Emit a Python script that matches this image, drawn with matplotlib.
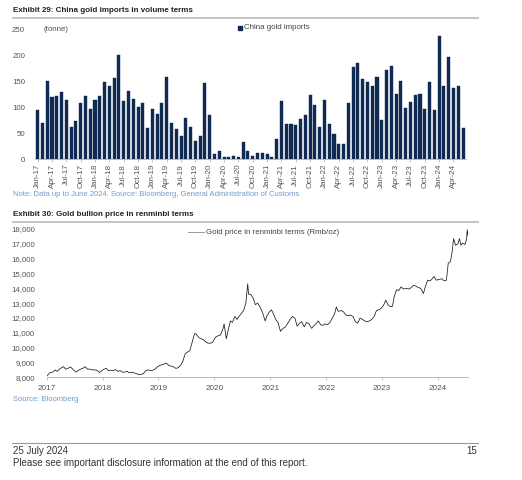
import matplotlib
matplotlib.use("Agg")
import matplotlib.pyplot as plt
import pandas as pd
import numpy as np
from matplotlib.lines import Line2D
from matplotlib.patches import Rectangle

# ---------------- data ----------------
months = pd.date_range("2017-01-01", "2024-06-01", freq="MS")
month_labels = [d.strftime("%b-%y") for d in months]
imports_tonnes = [
    95, 70, 150, 120, 121, 130, 114, 62, 73, 108, 122, 96,      # 2017
    113, 122, 149, 141, 156, 200, 111, 131, 116, 100, 107, 60,  # 2018
    97, 86, 107, 159, 70, 58, 44, 79, 62, 35, 45, 147,          # 2019
    84, 9, 16, 4, 3, 5, 4, 33, 16, 6, 11, 12,                   # 2020
    9, 4, 38, 112, 68, 68, 66, 77, 84, 124, 104, 62,            # 2021
    113, 68, 48, 28, 28, 108, 178, 185, 154, 148, 141, 159,     # 2022
    75, 171, 180, 126, 150, 99, 109, 124, 126, 97, 148, 95,     # 2023
    238, 140, 197, 137, 141, 59,                                # 2024
]
imports_yticks = [0, 50, 100, 150, 200, 250]

price_dates = [
    "2017-01-03", "2017-01-20", "2017-02-10", "2017-02-25", "2017-03-10", "2017-03-25",
    "2017-04-10", "2017-04-20", "2017-05-05", "2017-05-20", "2017-06-05", "2017-06-20",
    "2017-07-10", "2017-07-25", "2017-08-10", "2017-08-25", "2017-09-08", "2017-09-25",
    "2017-10-10", "2017-10-25", "2017-11-10", "2017-11-25", "2017-12-12", "2017-12-28",
    "2018-01-10", "2018-01-25", "2018-02-08", "2018-02-25", "2018-03-10", "2018-03-25",
    "2018-04-10", "2018-04-25", "2018-05-10", "2018-05-25", "2018-06-10", "2018-06-25",
    "2018-07-10", "2018-07-25", "2018-08-10", "2018-08-25", "2018-09-10", "2018-09-25",
    "2018-10-10", "2018-10-25", "2018-11-10", "2018-11-25", "2018-12-10", "2018-12-25",
    "2019-01-10", "2019-01-25", "2019-02-10", "2019-02-22", "2019-03-10", "2019-03-25",
    "2019-04-10", "2019-04-25", "2019-05-10", "2019-05-25", "2019-06-10", "2019-06-25",
    "2019-07-10", "2019-07-25", "2019-08-10", "2019-08-25", "2019-09-05", "2019-09-20",
    "2019-10-05", "2019-10-20", "2019-11-05", "2019-11-20", "2019-12-05", "2019-12-20",
    "2020-01-08", "2020-01-25", "2020-02-10", "2020-02-24", "2020-03-05", "2020-03-19",
    "2020-04-01", "2020-04-15", "2020-04-28", "2020-05-15", "2020-05-28", "2020-06-10",
    "2020-06-25", "2020-07-10", "2020-07-25", "2020-08-06", "2020-08-12", "2020-08-25",
    "2020-09-10", "2020-09-25", "2020-10-10", "2020-10-25", "2020-11-10", "2020-11-28",
    "2020-12-10", "2020-12-25", "2021-01-08", "2021-01-20", "2021-02-05", "2021-02-20",
    "2021-03-08", "2021-03-25", "2021-04-10", "2021-04-25", "2021-05-10", "2021-05-25",
    "2021-06-10", "2021-06-25", "2021-07-10", "2021-07-25", "2021-08-10", "2021-08-25",
    "2021-09-10", "2021-09-28", "2021-10-10", "2021-10-25", "2021-11-10", "2021-11-25",
    "2021-12-10", "2021-12-25", "2022-01-10", "2022-01-25", "2022-02-10", "2022-02-25",
    "2022-03-08", "2022-03-20", "2022-04-10", "2022-04-25", "2022-05-10", "2022-05-25",
    "2022-06-10", "2022-06-25", "2022-07-10", "2022-07-25", "2022-08-10", "2022-08-25",
    "2022-09-10", "2022-09-25", "2022-10-10", "2022-10-25", "2022-11-10", "2022-11-25",
    "2022-12-10", "2022-12-25", "2023-01-10", "2023-01-25", "2023-02-08", "2023-02-25",
    "2023-03-10", "2023-03-20", "2023-04-05", "2023-04-20", "2023-05-05", "2023-05-20",
    "2023-06-05", "2023-06-25", "2023-07-10", "2023-07-25", "2023-08-10", "2023-08-25",
    "2023-09-10", "2023-09-28", "2023-10-10", "2023-10-25", "2023-11-10", "2023-11-25",
    "2023-12-05", "2023-12-20", "2024-01-10", "2024-01-25", "2024-02-10", "2024-02-25",
    "2024-03-08", "2024-03-22", "2024-04-03", "2024-04-12", "2024-04-25", "2024-05-10",
    "2024-05-20", "2024-05-30", "2024-06-10", "2024-06-25", "2024-07-05", "2024-07-10",
    "2024-07-15",
]
price_rmb_oz = [
    8100, 8300, 8350, 8500, 8400, 8550,
    8650, 8720, 8550, 8600, 8700, 8550,
    8350, 8450, 8550, 8600, 8720, 8550,
    8550, 8500, 8500, 8480, 8330, 8450,
    8550, 8600, 8450, 8480, 8450, 8520,
    8400, 8450, 8350, 8350, 8400, 8300,
    8350, 8300, 8250, 8180, 8200, 8250,
    8450, 8500, 8450, 8480, 8550, 8700,
    8800, 8850, 8900, 8950, 8800, 8750,
    8700, 8600, 8650, 8800, 9100, 9600,
    9700, 9800, 10400, 10950, 10900, 10700,
    10600, 10550, 10400, 10300, 10300, 10350,
    10700, 10800, 10850, 11200, 11600, 10600,
    11200, 11800, 11700, 12100, 11900, 12100,
    12300, 12500, 13000, 14300, 13600, 13600,
    13350, 12900, 13000, 12750, 12400, 11800,
    12150, 12400, 12550, 12300, 11900, 11700,
    11100, 11300, 11400, 11650, 11900, 12100,
    12000, 11450, 11650, 11750, 11400, 11700,
    11600, 11300, 11450, 11600, 11800, 11550,
    11500, 11600, 11550, 11700, 12000, 12300,
    12750, 12450, 12500, 12400, 12200, 12150,
    12200, 12100, 11750, 11650, 12000, 11900,
    11800, 11750, 11800, 11900, 12100, 12500,
    12550, 12650, 12850, 13200, 12900, 12750,
    12800, 13400, 13900, 13850, 14100, 13950,
    14000, 13950, 14050, 14200, 14150, 14050,
    14000, 13650, 14100, 14550, 14500, 14650,
    14800, 14550, 14600, 14650, 14500, 14550,
    15700, 15800, 16500, 17350, 16900, 17000,
    17350, 16900, 17050, 16950, 17300, 17950,
    17550,
]
price_yticks = list(range(8000, 18001, 1000))
price_years = list(range(2017, 2025))

# ---------------- layout helpers ----------------
W, H = 522, 480
fig = plt.figure(figsize=(W / 100, H / 100), dpi=100)
fig.patch.set_facecolor("white")
plt.rcParams["font.family"] = ["Liberation Sans", "DejaVu Sans"]


def rect(l, t, r, b):
    return [l / W, 1 - b / H, (r - l) / W, (b - t) / H]


def fy(y):
    return 1 - y / H


def fx(x):
    return x / W


def hline(y, x0, x1, color="#c4c4c4", lw=1.4):
    fig.add_artist(Line2D([fx(x0), fx(x1)], [fy(y), fy(y)], color=color, lw=lw,
                          transform=fig.transFigure))


TICK_C = "#555555"
NOTE_C = "#6f9bc9"
BAR_C = "#0f2b52"

# ---------------- Exhibit 29 ----------------
fig.text(fx(13), fy(10), "Exhibit 29: China gold imports in volume terms",
         fontsize=5.8, fontweight="bold", color="#222222", va="center", ha="left")
hline(17.5, 13, 478)

ax1 = fig.add_axes(rect(34.8, 29.3, 465.9, 159))
x = np.arange(len(imports_tonnes))
ax1.bar(x, imports_tonnes, width=0.64, color=BAR_C, edgecolor=BAR_C, linewidth=0.3)
ax1.set_xlim(-0.6, len(imports_tonnes) - 0.4)
ax1.set_ylim(0, 250)
ax1.set_yticks(imports_yticks)
ax1.set_yticklabels([str(v) for v in imports_yticks])
tick_idx = list(range(0, len(month_labels), 3))
ax1.set_xticks(tick_idx)
ax1.set_xticklabels([month_labels[i] for i in tick_idx], rotation=90)
for s in ["top", "right", "left"]:
    ax1.spines[s].set_visible(False)
ax1.spines["bottom"].set_color("#b0b0b0")
ax1.spines["bottom"].set_linewidth(0.6)
ax1.tick_params(axis="y", length=0, pad=7, labelsize=5.7, labelcolor=TICK_C)
ax1.tick_params(axis="x", length=2, width=0.5, color="#b0b0b0", pad=1.5,
                labelsize=5.8, labelcolor=TICK_C)
fig.text(fx(43), fy(29.5), "(tonne)", fontsize=5.7, color=TICK_C, va="center", ha="left")
fig.add_artist(Rectangle((fx(237.5), fy(30)), 4 / W, 4 / H, color=BAR_C,
                         transform=fig.transFigure))
fig.text(fx(244), fy(27.5), "China gold imports", fontsize=5.7, color="#444444",
         va="center", ha="left")

fig.text(fx(13), fy(194.5),
         "Note: Data up to June 2024. Source: Bloomberg, General Administration of Customs",
         fontsize=5.5, color=NOTE_C, va="center", ha="left")

# ---------------- Exhibit 30 ----------------
fig.text(fx(13), fy(214), "Exhibit 30: Gold bullion price in renminbi terms",
         fontsize=5.8, fontweight="bold", color="#222222", va="center", ha="left")
hline(221.5, 13, 478)

ax2 = fig.add_axes(rect(46.7, 229, 468, 377.3))
dates = pd.to_datetime(price_dates)
ax2.plot(dates, price_rmb_oz, color="#1a1a1a", lw=0.55)
ax2.set_xlim(pd.Timestamp("2017-01-01"), pd.Timestamp("2024-07-15"))
ax2.set_ylim(8000, 18000)
ax2.set_yticks(price_yticks)
ax2.set_yticklabels([f"{v:,}" for v in price_yticks])
ax2.set_xticks([pd.Timestamp(f"{y}-01-01") for y in price_years])
ax2.set_xticklabels([str(y) for y in price_years])
for s in ["top", "right", "left"]:
    ax2.spines[s].set_visible(False)
ax2.spines["bottom"].set_color("#b0b0b0")
ax2.spines["bottom"].set_linewidth(0.6)
ax2.tick_params(axis="y", length=0, pad=8.5, labelsize=5.7, labelcolor=TICK_C)
ax2.tick_params(axis="x", length=2.5, width=0.5, color="#b0b0b0", pad=3,
                labelsize=5.9, labelcolor=TICK_C)
fig.add_artist(Line2D([fx(188), fx(204)], [fy(232), fy(232)], color="#9a9a9a", lw=0.7,
                      transform=fig.transFigure))
fig.text(fx(206), fy(232), "Gold price in renminbi terms (Rmb/oz)", fontsize=5.7,
         color="#444444", va="center", ha="left")

fig.text(fx(13), fy(399.5), "Source: Bloomberg", fontsize=5.5, color=NOTE_C,
         va="center", ha="left")

# ---------------- footer ----------------
hline(443, 12, 478, color="#9a9a9a", lw=0.8)
fig.text(fx(13), fy(451.5), "25 July 2024", fontsize=7.0, color="#333333",
         va="center", ha="left")
fig.text(fx(477), fy(451.5), "15", fontsize=7.0, color="#333333", va="center", ha="right")
fig.text(fx(13), fy(462.5),
         "Please see important disclosure information at the end of this report.",
         fontsize=7.0, color="#333333", va="center", ha="left")

fig.savefig("out.png", dpi=100, facecolor="white")
